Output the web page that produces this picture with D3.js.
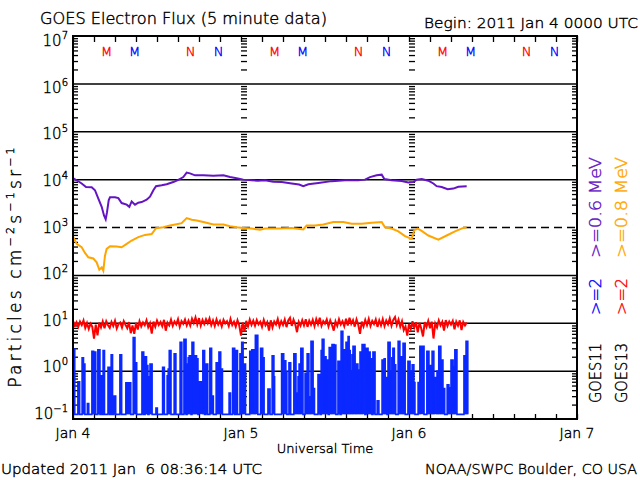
<!DOCTYPE html>
<html><head><meta charset="utf-8">
<script src="https://cdn.jsdelivr.net/npm/d3@7"></script>
<style>
body{margin:0;background:#fff}
svg{display:block}
text{font-family:"DejaVu Sans",sans-serif;font-weight:200;white-space:pre;stroke-width:0.4px}
</style>
</head><body><svg id="c" width="640" height="480"></svg>
<script>
// ---------- data ----------
const titleText = "GOES Electron Flux (5 minute data)";
const beginText = "Begin: 2011 Jan 4 0000 UTC";
const updatedText = "Updated 2011 Jan  6 08:36:14 UTC";
const creditText = "NOAA/SWPC Boulder, CO USA";
const xTitle = "Universal Time";
const dayLabels = ["Jan 4", "Jan 5", "Jan 6", "Jan 7"];
const dayHours = [0, 24, 48, 72];
const decadeExps = [-1, 0, 1, 2, 3, 4, 5, 6, 7];

// local midnight / noon markers (hours after Jan 4 00 UT)
const mnLetters = ["M", "M", "N", "N", "M", "M", "N", "N", "M", "M", "N", "N"];
const mnHours = [4.8, 8.8, 16.8, 20.8, 28.8, 32.8, 40.8, 44.8, 52.8, 56.8, 64.8, 68.8];
const mnColors = ["#ff0000", "#0000ff", "#ff0000", "#0000ff", "#ff0000", "#0000ff", "#ff0000", "#0000ff", "#ff0000", "#0000ff", "#ff0000", "#0000ff"];

// GOES11 >=0.6 MeV (purple)
const purpleHours = [0, 0.52, 1.24, 1.86, 2.67, 3.14, 3.62, 4.1, 4.43, 4.67, 4.86, 5.1, 5.29, 6.0, 6.48, 6.95, 7.67, 8.05, 8.38, 8.86, 9.33, 9.81, 10.52, 11.0, 11.48, 11.86, 12.67, 13.38, 14.33, 15.05, 15.76, 16.24, 16.71, 17.43, 18.62, 20.05, 21.48, 22.43, 23.38, 24.33, 25.52, 26.4, 27.43, 28.6, 29.81, 31.24, 32.3, 32.9, 33.62, 35.05, 36.95, 38.86, 40.76, 41.71, 42.43, 43.38, 44.1, 44.48, 45.52, 46.95, 47.9, 48.62, 49.1, 49.81, 50.76, 51.48, 51.95, 52.67, 53.52, 54.33, 55.05, 56.24];
const purpleVals = [10700, 9700, 8300, 7000, 6900, 6000, 4000, 2700, 1780, 1480, 2090, 3700, 4300, 4300, 4100, 3240, 3000, 2700, 3500, 3000, 3300, 3400, 3800, 4400, 6000, 7300, 7600, 8000, 8900, 9900, 11300, 14000, 13500, 12300, 12300, 12000, 12300, 11300, 10700, 10000, 9700, 9500, 9700, 9000, 8900, 8300, 7900, 7300, 8000, 8500, 9300, 9700, 9700, 10000, 11300, 12300, 12700, 10300, 9700, 9400, 8700, 8900, 10000, 10300, 9500, 8300, 7300, 7000, 6300, 6500, 7100, 7300];

// GOES13 >=0.8 MeV (orange)
const orangeHours = [0, 0.52, 1.24, 1.71, 2.19, 2.9, 3.38, 3.76, 4.1, 4.33, 4.57, 4.81, 5.29, 6.24, 6.95, 7.67, 8.38, 9.33, 10.29, 11.24, 11.86, 12.9, 13.86, 14.81, 15.52, 16.24, 16.95, 17.67, 18.62, 20.05, 21.48, 22.43, 23.38, 24.33, 25.52, 26.71, 27.43, 29.33, 31.24, 32.9, 33.38, 34.57, 35.76, 37.19, 38.62, 39.81, 41.24, 42.67, 44.1, 44.57, 45.52, 46.48, 47.43, 48.38, 48.76, 49.24, 49.81, 50.76, 52.19, 53.38, 54.57, 55.76, 56.24];
const orangeVals = [650, 455, 387, 295, 238, 225, 187, 131, 147, 125, 258, 357, 405, 400, 387, 455, 535, 630, 700, 730, 970, 1010, 1100, 1170, 1230, 1570, 1450, 1400, 1300, 1160, 1160, 1060, 1010, 980, 950, 900, 950, 950, 980, 910, 1100, 1100, 1160, 1300, 1300, 1200, 1200, 1250, 1300, 1010, 950, 830, 660, 580, 880, 950, 850, 680, 560, 680, 830, 980, 1010];

// GOES13 >=2 MeV (red), every 15 minutes from 0 h
const redVals = [
  11.2, 9.0, 10.5, 8.4, 10.8, 9.2, 11.5, 8.0,
  10.1, 7.6, 9.8, 8.5, 4.8, 9.4, 5.6, 10.3,
  8.2, 10.9, 7.9, 11.0, 9.1, 8.0, 10.7, 8.8,
  11.3, 7.8, 9.6, 10.4, 8.1, 11.1, 9.3, 7.9,
  10.6, 6.2, 9.0, 6.0, 10.2, 7.4, 11.0, 8.6,
  10.4, 9.1, 11.6, 8.3, 10.0, 6.1, 10.8, 8.5,
  11.4, 9.2, 10.6, 8.7, 11.8, 7.0, 10.3, 9.0,
  11.9, 8.8, 10.9, 9.5, 12.2, 8.4, 11.1, 9.7,
  12.0, 9.0, 11.3, 8.9, 12.4, 10.1, 13.2, 9.4,
  12.8, 8.9, 11.7, 9.6, 12.1, 10.0, 12.6, 9.1,
  11.5, 8.8, 12.0, 9.4, 11.2, 8.6, 11.8, 9.9,
  11.0, 8.7, 12.3, 9.2, 10.8, 8.5, 11.6, 9.0,
  5.5, 10.4, 6.8, 11.2, 8.6, 12.0, 9.3, 11.4,
  8.9, 11.7, 9.5, 10.8, 8.4, 11.8, 9.1, 10.6,
  7.0, 11.5, 8.2, 10.9, 9.4, 12.3, 8.6, 11.0,
  9.2, 12.0, 8.3, 11.4, 13.0, 8.8, 11.9, 9.6,
  6.5, 10.7, 8.9, 11.6, 9.0, 12.1, 8.4, 11.3,
  9.3, 11.8, 8.7, 12.2, 9.5, 13.0, 8.9, 11.1,
  9.8, 12.0, 8.6, 11.5, 9.2, 7.0, 10.9, 8.8,
  12.1, 9.4, 11.0, 8.7, 12.4, 9.0, 13.0, 9.7,
  11.6, 8.5, 12.0, 9.3, 6.0, 10.8, 8.6, 11.7,
  9.1, 12.3, 8.8, 11.2, 9.6, 12.0, 8.4, 11.5,
  9.0, 12.2, 8.7, 11.4, 9.5, 12.6, 8.9, 11.8,
  13.5, 9.2, 11.9, 8.5, 11.0, 7.2, 8.6, 5.5,
  9.7, 7.6, 11.0, 8.1, 10.5, 6.5, 10.2, 7.8,
  5.3, 10.6, 8.4, 11.2, 7.9, 10.8, 4.8, 9.9,
  8.2, 11.4, 9.0, 10.7, 7.0, 11.6, 8.8, 10.9,
  9.4, 11.2, 7.5, 10.8, 8.9, 11.5, 7.2, 10.6,
  9.0, 10.4
];
const redStepHours = 0.25;

// GOES11 >=2 MeV (blue): bursts above the background level
const blueFloor = 0.125;
const blueEndHour = 56.4;
const blueStart = [0.0, 0.7, 1.3, 1.5, 2.05, 2.7, 2.95, 3.55, 4.0, 4.3, 5.0, 5.45, 5.85, 6.7, 7.55, 7.85, 8.05, 8.6, 8.85, 9.85, 10.3, 10.5, 10.85, 11.0, 11.85, 12.8, 13.45, 13.6, 13.75, 14.45, 15.3, 15.85, 16.3, 16.45, 16.6, 17.0, 17.25, 17.45, 17.65, 17.95, 18.55, 19.0, 19.55, 19.8, 20.45, 20.65, 20.85, 21.1, 22.3, 22.8, 23.3, 23.85, 24.1, 24.3, 25.25, 25.55, 25.85, 26.05, 26.8, 27.1, 27.85,
  28.45, 28.7, 29.8, 30.1, 30.4, 30.85, 31.55, 31.85, 32.15, 32.3, 32.55, 33.15, 33.45, 33.7, 33.85, 34.0, 34.3, 35.0, 35.45, 35.6, 35.85, 36.15, 36.6, 36.85, 37.0, 37.3, 37.85, 38.3, 38.55, 38.85, 39.0, 39.3, 39.45, 39.6, 39.85, 40.0, 40.3, 40.45, 40.7, 41.0, 41.3, 41.85, 42.15, 42.45, 42.85, 43.45, 44.15, 44.45, 44.6, 45.0, 45.3, 45.55, 45.7, 45.9, 46.45, 46.7, 47.0, 47.15, 47.85, 48.15, 48.45, 48.7, 49.3, 49.55, 50.55, 50.85, 51.3, 51.55, 52.0, 52.25, 52.55, 52.85, 53.45, 53.7, 54.0, 54.3, 54.55, 55.85, 56.15];
const blueEnd = [0.25, 0.95, 1.5, 1.7, 2.25, 2.95, 3.25, 3.85, 4.2, 4.5, 5.25, 5.65, 6.1, 6.95, 7.85, 8.05, 8.25, 8.85, 9.1, 10.1, 10.5, 10.7, 11.0, 11.3, 12.05, 13.05, 13.6, 13.75, 14.0, 14.7, 15.55, 16.15, 16.45, 16.6, 16.85, 17.25, 17.45, 17.65, 17.85, 18.55, 18.8, 19.25, 19.8, 20.05, 20.65, 20.85, 21.1, 21.35, 22.5, 23.1, 23.5, 24.1, 24.3, 24.65, 25.55, 25.85, 26.05, 26.4, 27.1, 27.3, 28.15,
  28.7, 28.8, 30.1, 30.4, 30.55, 31.1, 31.85, 32.15, 32.3, 32.55, 32.85, 33.45, 33.7, 33.85, 34.0, 34.3, 34.5, 35.3, 35.6, 35.85, 36.15, 36.45, 36.85, 37.0, 37.3, 37.55, 38.15, 38.55, 38.85, 39.0, 39.3, 39.45, 39.6, 39.85, 40.0, 40.3, 40.45, 40.7, 41.0, 41.3, 41.7, 42.15, 42.45, 42.7, 43.15, 43.7, 44.45, 44.6, 44.85, 45.3, 45.55, 45.7, 45.9, 46.1, 46.7, 47.0, 47.15, 47.45, 48.15, 48.45, 48.7, 48.85, 49.55, 50.15, 50.85, 51.3, 51.55, 52.0, 52.25, 52.55, 52.85, 53.1, 53.7, 54.0, 54.3, 54.55, 54.85, 56.15, 56.4];
const blueVal = [2.9, 0.6, 1.9, 1.4, 0.21, 2.6, 2.5, 2.8, 0.8, 2.7, 1.2, 2.2, 0.3, 2.2, 0.57, 0.35, 0.57, 5.0, 1.5, 2.5, 2.0, 1.3, 0.76, 1.4, 0.17, 1.2, 0.8, 1.1, 2.7, 2.3, 4.0, 4.6, 1.4, 1.9, 2.1, 4.0, 1.8, 2.1, 1.8, 0.6, 2.7, 1.4, 3.0, 0.3, 1.5, 0.75, 2.5, 1.1, 0.35, 3.0, 2.7, 2.3, 4.0, 1.4, 2.6, 2.8, 0.4, 5.6, 3.0, 1.9, 0.42,
  2.1, 0.76, 2.3, 1.65, 0.97, 1.5, 2.3, 0.35, 0.76, 1.4, 3.0, 0.9, 2.3, 0.2, 0.29, 4.2, 0.43, 0.85, 2.7, 4.6, 2.0, 1.7, 3.1, 1.9, 3.6, 3.5, 1.6, 6.8, 2.8, 0.76, 4.0, 5.3, 2.7, 1.0, 2.2, 3.3, 1.3, 1.4, 1.05, 2.5, 3.6, 3.0, 2.5, 1.8, 2.5, 0.24, 1.7, 1.8, 0.73, 4.0, 1.0, 1.9, 3.0, 1.35, 4.2, 2.0, 0.37, 3.8, 1.6, 1.0, 1.35, 0.58, 0.58, 3.3, 2.6, 1.3, 2.6, 0.73, 1.0, 3.3, 1.7, 0.43, 0.52, 0.45, 1.7, 1.25, 2.8, 2.1, 4.2];

// right-hand legend
const legendCol1 = [{t: "GOES11", c: "#000000"}, {t: ">=2", c: "#0000ff"}, {t: ">=0.6 MeV", c: "#6414c4"}];
const legendCol2 = [{t: "GOES13", c: "#000000"}, {t: ">=2", c: "#ff0000"}, {t: ">=0.8 MeV", c: "#ffa500"}];

// ---------- drawing ----------
const L = 73, R = 577, T = 36, B = 419;
const svg = d3.select("#c");
const x = d3.scaleLinear().domain([0, 72]).range([L, R]);
const y = d3.scaleLog().domain([0.1, 1e7]).range([B, T]);

const minors = [];
decadeExps.slice(0, -1).forEach(e => { for (let m = 2; m <= 9; m++) minors.push(m * Math.pow(10, e)); });
const hourTicks = d3.range(0, 73, 3);

// gridlines
svg.append("g").selectAll("line").data(decadeExps.filter(e => e > -1 && e < 7)).join("line")
  .attr("x1", L).attr("x2", R)
  .attr("y1", e => y(Math.pow(10, e))).attr("y2", e => y(Math.pow(10, e)))
  .attr("stroke", "#000").attr("stroke-width", 1.5)
  .attr("stroke-dasharray", e => e === 3 ? "8,5" : null);

function styleAxis(g) {
  g.select(".domain").remove();
  g.selectAll("line").attr("stroke", "#000").attr("stroke-width", 1.3);
  g.selectAll("text").remove();
}
svg.append("g").attr("transform", `translate(${L},0)`).call(d3.axisRight(y).tickValues(minors).tickSize(5).tickFormat("")).call(styleAxis);
svg.append("g").attr("transform", `translate(${R},0)`).call(d3.axisLeft(y).tickValues(minors).tickSize(5).tickFormat("")).call(styleAxis);
[24, 48].forEach(h => {
  svg.append("g").attr("transform", `translate(${x(h)},0)`).call(d3.axisRight(y).tickValues(minors).tickSize(6).tickFormat("")).call(styleAxis);
});
svg.append("g").attr("transform", `translate(0,${T})`).call(d3.axisBottom(x).tickValues(hourTicks).tickSize(6).tickFormat("")).call(styleAxis);
svg.append("g").attr("transform", `translate(0,${B})`).call(d3.axisTop(x).tickValues(hourTicks).tickSize(5).tickFormat("")).call(styleAxis);

// data series
const lineGen = d3.line().x(d => x(d[0])).y(d => y(d[1]));
const purple = purpleHours.map((h, i) => [h, purpleVals[i]]);
const orange = orangeHours.map((h, i) => [h, orangeVals[i]]);
const red = redVals.map((v, i) => [i * redStepHours, v]);
const blue = [];
blueStart.forEach((s, i) => {
  blue.push([s, blueFloor], [s, blueVal[i]], [blueEnd[i], blueVal[i]], [blueEnd[i], blueFloor]);
});
blue.push([blueEndHour, blueFloor]);

svg.append("path").datum(purple).attr("d", lineGen).attr("fill", "none").attr("stroke", "#6414c4").attr("stroke-width", 2);
svg.append("path").datum(orange).attr("d", lineGen).attr("fill", "none").attr("stroke", "#ffa500").attr("stroke-width", 2);
svg.append("path").datum(red).attr("d", lineGen).attr("fill", "none").attr("stroke", "#ff0000").attr("stroke-width", 2);
const areaGen = d3.area().x(d => x(d[0])).y0(y(blueFloor)).y1(d => y(d[1]));
svg.append("path").datum(blue).attr("d", areaGen).attr("fill", "#0a28ff");
svg.append("path").datum(blue).attr("d", lineGen).attr("fill", "none").attr("stroke", "#0a28ff").attr("stroke-width", 1.6);

// frame
svg.append("rect").attr("x", L).attr("y", T).attr("width", R - L).attr("height", B - T)
  .attr("fill", "none").attr("stroke", "#000").attr("stroke-width", 2);

// y tick labels
const yl = svg.append("g").selectAll("text").data(decadeExps).join("text")
  .attr("x", 68)
  .attr("y", e => y(Math.pow(10, e)) + 10 - (7 - e) * 1.25)
  .attr("text-anchor", "end").attr("font-size", 15).attr("fill", "#000");
yl.append("tspan").text("10");
yl.append("tspan").attr("dy", -7).attr("font-size", 10).text(e => e < 0 ? "\u2212" + (-e) : String(e));

// y axis title
const yt = svg.append("text").attr("transform", `translate(21,266) rotate(-90)`)
  .attr("text-anchor", "middle").attr("font-size", 17).attr("letter-spacing", 3.2).attr("fill", "#000");
yt.append("tspan").text("Particles cm");
yt.append("tspan").attr("dy", -7).attr("font-size", 11).text("\u22122");
yt.append("tspan").attr("dy", 7).text("s");
yt.append("tspan").attr("dy", -7).attr("font-size", 11).text("\u22121");
yt.append("tspan").attr("dy", 7).text("sr");
yt.append("tspan").attr("dy", -7).attr("font-size", 11).text("\u22121");

// x labels
svg.append("g").selectAll("text").data(dayLabels).join("text")
  .attr("x", (d, i) => x(dayHours[i])).attr("y", 438)
  .attr("text-anchor", "middle").attr("font-size", 14).text(d => d);
svg.append("text").attr("x", 325).attr("y", 453).attr("text-anchor", "middle").attr("font-size", 13).text(xTitle);

// M/N markers
svg.append("g").selectAll("text").data(mnLetters).join("text")
  .attr("x", (d, i) => x(mnHours[i])).attr("y", 56)
  .attr("text-anchor", "middle").attr("font-size", 13).attr("fill", (d, i) => mnColors[i]).text(d => d);

// titles
svg.append("text").attr("x", 40).attr("y", 24).attr("font-size", 15)
  .attr("textLength", 287).attr("lengthAdjust", "spacingAndGlyphs").text(titleText);
svg.append("text").attr("x", 424).attr("y", 28).attr("font-size", 14)
  .attr("textLength", 214).attr("lengthAdjust", "spacingAndGlyphs").text(beginText);
svg.append("text").attr("x", 1).attr("y", 474).attr("font-size", 14)
  .attr("textLength", 261).attr("lengthAdjust", "spacingAndGlyphs").text(updatedText);
svg.append("text").attr("x", 425).attr("y", 474).attr("font-size", 14)
  .attr("textLength", 212).attr("lengthAdjust", "spacingAndGlyphs").text(creditText);

// legend (rotated)
const legStarts = [403, 315, 258];
const legLens = [60, 37, 101];
[[legendCol1, 601], [legendCol2, 627]].forEach(([col, bx]) => {
  col.forEach((d, i) => {
    svg.append("text").attr("transform", `translate(${bx},${legStarts[i]}) rotate(-90)`)
      .attr("font-size", 16).attr("fill", d.c)
      .attr("textLength", legLens[i]).attr("lengthAdjust", "spacingAndGlyphs").text(d.t);
  });
});

// darken thin glyphs with a hairline outline in their own colour
svg.selectAll("text").each(function () {
  this.setAttribute("stroke", this.getAttribute("fill") || "#000");
});
</script>
</body></html>
